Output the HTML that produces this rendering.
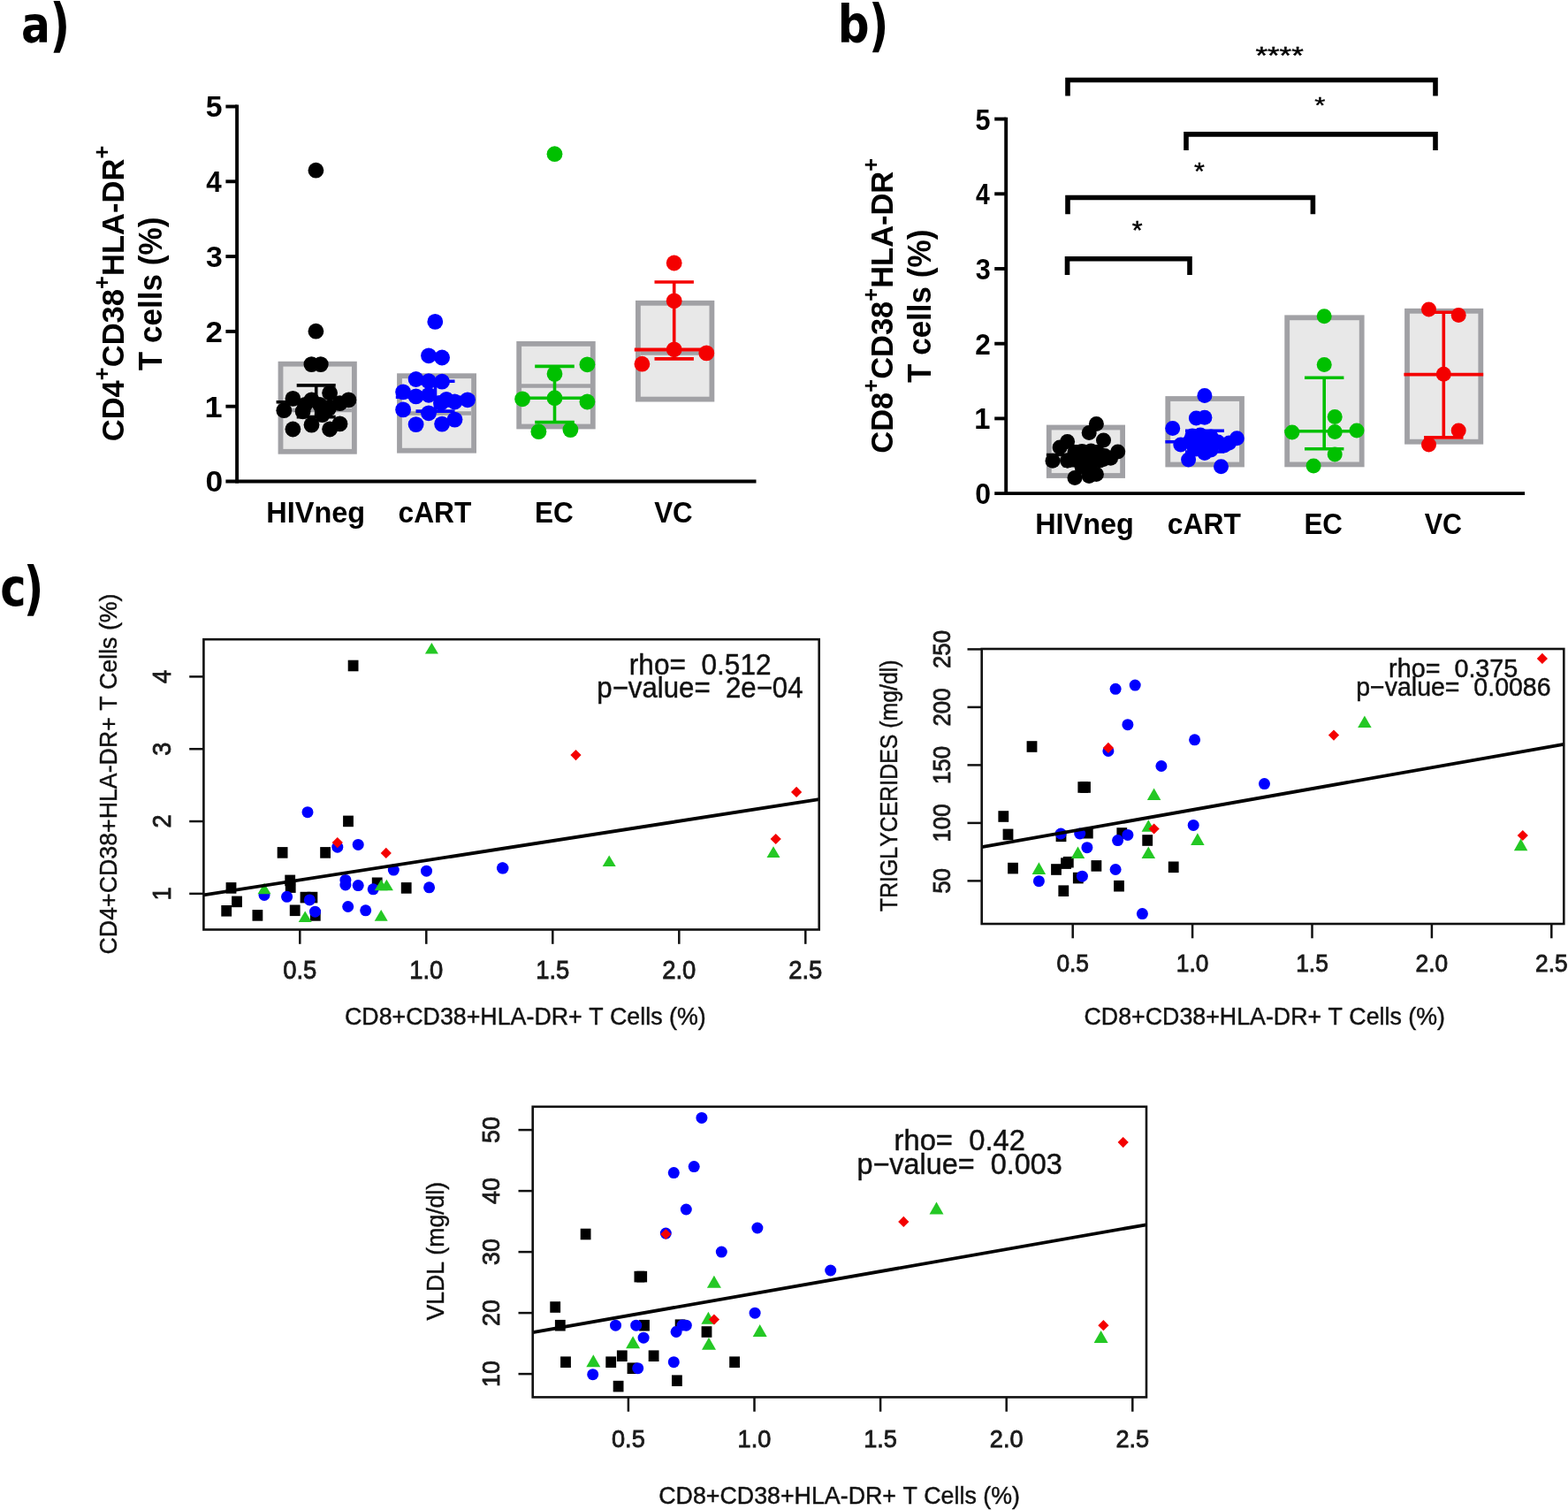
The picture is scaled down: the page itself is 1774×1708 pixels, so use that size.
<!DOCTYPE html><html><head><meta charset="utf-8"><title>Figure</title>
<style>html,body{margin:0;padding:0;background:#fff;overflow:hidden;}svg{display:block;}text{font-family:"Liberation Sans", Arial, sans-serif;font-kerning:none;white-space:pre;}</style></head><body>
<svg width="1774" height="1708" viewBox="0 0 1774 1708">
<rect width="1774" height="1708" fill="#fff"/>
<rect x="317.5" y="411.7" width="83.4" height="99.1" fill="#e8e8e8" stroke="#a1a1a5" stroke-width="5.8"/>
<line x1="320.5" y1="464" x2="397.9" y2="464" stroke="#a1a1a5" stroke-width="4.5" stroke-linecap="butt"/>
<rect x="452" y="425.2" width="84.1" height="84.5" fill="#e8e8e8" stroke="#a1a1a5" stroke-width="5.8"/>
<line x1="455" y1="467.6" x2="533" y2="467.6" stroke="#a1a1a5" stroke-width="4.5" stroke-linecap="butt"/>
<rect x="587.2" y="388.9" width="83.6" height="93.6" fill="#e8e8e8" stroke="#a1a1a5" stroke-width="5.8"/>
<line x1="590" y1="436.5" x2="668" y2="436.5" stroke="#a1a1a5" stroke-width="4.5" stroke-linecap="butt"/>
<rect x="721.9" y="342.8" width="83.5" height="108.8" fill="#e8e8e8" stroke="#a1a1a5" stroke-width="5.8"/>
<line x1="725" y1="399.4" x2="802.5" y2="399.4" stroke="#a1a1a5" stroke-width="4.5" stroke-linecap="butt"/>
<circle cx="357.4" cy="192.7" r="8.9" fill="#000"/>
<circle cx="357.4" cy="374.7" r="8.9" fill="#000"/>
<circle cx="352.4" cy="412.1" r="8.9" fill="#000"/>
<circle cx="362.8" cy="412.1" r="8.9" fill="#000"/>
<circle cx="331.4" cy="450.9" r="8.9" fill="#000"/>
<circle cx="321.3" cy="464.2" r="8.9" fill="#000"/>
<circle cx="352.5" cy="452.4" r="8.9" fill="#000"/>
<circle cx="394.4" cy="452.4" r="8.9" fill="#000"/>
<circle cx="384.5" cy="456.2" r="8.9" fill="#000"/>
<circle cx="373.1" cy="444.5" r="8.9" fill="#000"/>
<circle cx="342.6" cy="465.3" r="8.9" fill="#000"/>
<circle cx="364.7" cy="469.1" r="8.9" fill="#000"/>
<circle cx="352.5" cy="480.6" r="8.9" fill="#000"/>
<circle cx="331.4" cy="485.5" r="8.9" fill="#000"/>
<circle cx="373.1" cy="485.5" r="8.9" fill="#000"/>
<circle cx="384.5" cy="479.4" r="8.9" fill="#000"/>
<circle cx="362" cy="458" r="8.9" fill="#000"/>
<circle cx="372" cy="462" r="8.9" fill="#000"/>
<circle cx="345" cy="458" r="8.9" fill="#000"/>
<line x1="357.7" y1="435.9" x2="357.7" y2="471.6" stroke="#000" stroke-width="3.6" stroke-linecap="butt"/>
<line x1="335.7" y1="435.9" x2="379.7" y2="435.9" stroke="#000" stroke-width="3.6" stroke-linecap="butt"/>
<line x1="335.7" y1="471.6" x2="379.7" y2="471.6" stroke="#000" stroke-width="3.6" stroke-linecap="butt"/>
<line x1="312.6" y1="454.7" x2="402.4" y2="454.7" stroke="#000" stroke-width="3.6" stroke-linecap="butt"/>
<circle cx="492.3" cy="363.9" r="8.9" fill="#0000ff"/>
<circle cx="485" cy="402.3" r="8.9" fill="#0000ff"/>
<circle cx="500.1" cy="404.5" r="8.9" fill="#0000ff"/>
<circle cx="470.6" cy="429" r="8.9" fill="#0000ff"/>
<circle cx="485" cy="431.2" r="8.9" fill="#0000ff"/>
<circle cx="500.1" cy="431.7" r="8.9" fill="#0000ff"/>
<circle cx="456.1" cy="443.4" r="8.9" fill="#0000ff"/>
<circle cx="470.6" cy="448.4" r="8.9" fill="#0000ff"/>
<circle cx="485" cy="446.8" r="8.9" fill="#0000ff"/>
<circle cx="514.5" cy="454.5" r="8.9" fill="#0000ff"/>
<circle cx="529" cy="452.3" r="8.9" fill="#0000ff"/>
<circle cx="499" cy="455.7" r="8.9" fill="#0000ff"/>
<circle cx="456.1" cy="463.4" r="8.9" fill="#0000ff"/>
<circle cx="485" cy="467.3" r="8.9" fill="#0000ff"/>
<circle cx="470.6" cy="480.1" r="8.9" fill="#0000ff"/>
<circle cx="500.1" cy="479.6" r="8.9" fill="#0000ff"/>
<circle cx="514.5" cy="474.6" r="8.9" fill="#0000ff"/>
<circle cx="505" cy="452" r="8.9" fill="#0000ff"/>
<line x1="492.5" y1="431.2" x2="492.5" y2="465.1" stroke="#0000ff" stroke-width="3.6" stroke-linecap="butt"/>
<line x1="470.5" y1="431.2" x2="514.5" y2="431.2" stroke="#0000ff" stroke-width="3.6" stroke-linecap="butt"/>
<line x1="470.5" y1="465.1" x2="514.5" y2="465.1" stroke="#0000ff" stroke-width="3.6" stroke-linecap="butt"/>
<line x1="447.8" y1="449.2" x2="537" y2="449.2" stroke="#0000ff" stroke-width="3.6" stroke-linecap="butt"/>
<line x1="627.5" y1="414.4" x2="627.5" y2="477.6" stroke="#00c000" stroke-width="3.6" stroke-linecap="butt"/>
<line x1="605.2" y1="414.4" x2="649.8" y2="414.4" stroke="#00c000" stroke-width="3.6" stroke-linecap="butt"/>
<line x1="605.2" y1="477.6" x2="649.8" y2="477.6" stroke="#00c000" stroke-width="3.6" stroke-linecap="butt"/>
<line x1="584.3" y1="450.2" x2="664" y2="450.2" stroke="#00c000" stroke-width="3.6" stroke-linecap="butt"/>
<circle cx="627.5" cy="174.2" r="8.9" fill="#00c000"/>
<circle cx="664.4" cy="412.3" r="8.9" fill="#00c000"/>
<circle cx="627.5" cy="422.9" r="8.9" fill="#00c000"/>
<circle cx="591.1" cy="451.3" r="8.9" fill="#00c000"/>
<circle cx="627.5" cy="450.2" r="8.9" fill="#00c000"/>
<circle cx="664.4" cy="454.5" r="8.9" fill="#00c000"/>
<circle cx="609.4" cy="488.2" r="8.9" fill="#00c000"/>
<circle cx="645.4" cy="486.1" r="8.9" fill="#00c000"/>
<line x1="762.7" y1="319" x2="762.7" y2="405.9" stroke="#f40000" stroke-width="3.6" stroke-linecap="butt"/>
<line x1="740.5" y1="319" x2="784.9" y2="319" stroke="#f40000" stroke-width="3.6" stroke-linecap="butt"/>
<line x1="740.5" y1="405.9" x2="784.9" y2="405.9" stroke="#f40000" stroke-width="3.6" stroke-linecap="butt"/>
<line x1="717.8" y1="395.6" x2="800" y2="395.6" stroke="#f40000" stroke-width="4" stroke-linecap="butt"/>
<circle cx="762.7" cy="297.5" r="8.9" fill="#f40000"/>
<circle cx="762.7" cy="340.3" r="8.9" fill="#f40000"/>
<circle cx="762.7" cy="395.3" r="8.9" fill="#f40000"/>
<circle cx="799.3" cy="399.4" r="8.9" fill="#f40000"/>
<circle cx="726.4" cy="411.7" r="8.9" fill="#f40000"/>
<line x1="268.1" y1="118.55" x2="268.1" y2="546.45" stroke="#000" stroke-width="3.9" stroke-linecap="butt"/>
<line x1="255.4" y1="544.5" x2="855.5" y2="544.5" stroke="#000" stroke-width="3.9" stroke-linecap="butt"/>
<line x1="255.4" y1="459.7" x2="268.1" y2="459.7" stroke="#000" stroke-width="3.9" stroke-linecap="butt"/>
<line x1="255.4" y1="374.9" x2="268.1" y2="374.9" stroke="#000" stroke-width="3.9" stroke-linecap="butt"/>
<line x1="255.4" y1="290.1" x2="268.1" y2="290.1" stroke="#000" stroke-width="3.9" stroke-linecap="butt"/>
<line x1="255.4" y1="205.3" x2="268.1" y2="205.3" stroke="#000" stroke-width="3.9" stroke-linecap="butt"/>
<line x1="255.4" y1="120.5" x2="268.1" y2="120.5" stroke="#000" stroke-width="3.9" stroke-linecap="butt"/>
<text transform="translate(232.4,556.4) scale(0.3532,0.3300)" font-size="100" font-weight="bold" fill="#000">0</text>
<text transform="translate(231.53,471.6) scale(0.3610,0.3300)" font-size="100" font-weight="bold" fill="#000">1</text>
<text transform="translate(232.59,386.8) scale(0.3489,0.3300)" font-size="100" font-weight="bold" fill="#000">2</text>
<text transform="translate(233.02,302) scale(0.3380,0.3300)" font-size="100" font-weight="bold" fill="#000">3</text>
<text transform="translate(233.33,217.2) scale(0.3136,0.3300)" font-size="100" font-weight="bold" fill="#000">4</text>
<text transform="translate(232.76,132.4) scale(0.3376,0.3300)" font-size="100" font-weight="bold" fill="#000">5</text>
<text transform="translate(301.23,591.1) scale(0.3250,0.3300)" font-size="100" font-weight="bold" fill="#000">HIVneg</text>
<text transform="translate(450.56,591.1) scale(0.3174,0.3300)" font-size="100" font-weight="bold" fill="#000">cART</text>
<text transform="translate(604.89,591.1) scale(0.3151,0.3300)" font-size="100" font-weight="bold" fill="#000">EC</text>
<text transform="translate(740.19,591.1) scale(0.3129,0.3300)" font-size="100" font-weight="bold" fill="#000">VC</text>
<rect x="1186.8" y="483.5" width="83.3" height="54.5" fill="#e8e8e8" stroke="#a1a1a5" stroke-width="5.8"/>
<rect x="1321.3" y="451" width="83.7" height="74.5" fill="#e8e8e8" stroke="#a1a1a5" stroke-width="5.8"/>
<rect x="1456.2" y="359.3" width="84.5" height="166.1" fill="#e8e8e8" stroke="#a1a1a5" stroke-width="5.8"/>
<rect x="1592" y="351.8" width="83.3" height="147.9" fill="#e8e8e8" stroke="#a1a1a5" stroke-width="5.8"/>
<circle cx="1240.4" cy="479.6" r="8.5" fill="#000"/>
<circle cx="1232.2" cy="489.4" r="8.5" fill="#000"/>
<circle cx="1207.6" cy="499.6" r="8.5" fill="#000"/>
<circle cx="1248.5" cy="497.9" r="8.5" fill="#000"/>
<circle cx="1199.1" cy="506" r="8.5" fill="#000"/>
<circle cx="1264.7" cy="511.1" r="8.5" fill="#000"/>
<circle cx="1191" cy="521.2" r="8.5" fill="#000"/>
<circle cx="1207.6" cy="520.9" r="8.5" fill="#000"/>
<circle cx="1256.6" cy="518.2" r="8.5" fill="#000"/>
<circle cx="1248.5" cy="519.5" r="8.5" fill="#000"/>
<circle cx="1216" cy="540.5" r="8.5" fill="#000"/>
<circle cx="1232.2" cy="538.5" r="8.5" fill="#000"/>
<circle cx="1240.4" cy="536.5" r="8.5" fill="#000"/>
<circle cx="1224.1" cy="528.3" r="8.5" fill="#000"/>
<circle cx="1218" cy="512" r="8.5" fill="#000"/>
<circle cx="1232" cy="514" r="8.5" fill="#000"/>
<circle cx="1224" cy="520" r="8.5" fill="#000"/>
<circle cx="1216" cy="511.7" r="8.5" fill="#000"/>
<circle cx="1224.1" cy="510.6" r="8.5" fill="#000"/>
<circle cx="1234.3" cy="510" r="8.5" fill="#000"/>
<circle cx="1241.7" cy="511.4" r="8.5" fill="#000"/>
<circle cx="1249.8" cy="515.5" r="8.5" fill="#000"/>
<circle cx="1207.9" cy="520.9" r="8.5" fill="#000"/>
<circle cx="1216" cy="519.5" r="8.5" fill="#000"/>
<circle cx="1233.6" cy="516.2" r="8.5" fill="#000"/>
<circle cx="1244.4" cy="520.9" r="8.5" fill="#000"/>
<circle cx="1233.6" cy="525" r="8.5" fill="#000"/>
<line x1="1224.5" y1="504.8" x2="1224.5" y2="526.6" stroke="#000" stroke-width="3.6" stroke-linecap="butt"/>
<line x1="1202.5" y1="504.8" x2="1246.5" y2="504.8" stroke="#000" stroke-width="3.6" stroke-linecap="butt"/>
<line x1="1202.5" y1="526.6" x2="1246.5" y2="526.6" stroke="#000" stroke-width="3.6" stroke-linecap="butt"/>
<line x1="1183.9" y1="514.5" x2="1270" y2="514.5" stroke="#000" stroke-width="3.6" stroke-linecap="butt"/>
<circle cx="1362.9" cy="447.6" r="8.5" fill="#0000ff"/>
<circle cx="1353.4" cy="472.9" r="8.5" fill="#0000ff"/>
<circle cx="1362.9" cy="472.2" r="8.5" fill="#0000ff"/>
<circle cx="1326.7" cy="484.5" r="8.5" fill="#0000ff"/>
<circle cx="1399.4" cy="495.7" r="8.5" fill="#0000ff"/>
<circle cx="1335.8" cy="503.1" r="8.5" fill="#0000ff"/>
<circle cx="1390.7" cy="501" r="8.5" fill="#0000ff"/>
<circle cx="1344.6" cy="520" r="8.5" fill="#0000ff"/>
<circle cx="1381.5" cy="527.7" r="8.5" fill="#0000ff"/>
<circle cx="1362.9" cy="512.6" r="8.5" fill="#0000ff"/>
<circle cx="1349" cy="493" r="8.5" fill="#0000ff"/>
<circle cx="1358" cy="492" r="8.5" fill="#0000ff"/>
<circle cx="1370" cy="494" r="8.5" fill="#0000ff"/>
<circle cx="1378" cy="500" r="8.5" fill="#0000ff"/>
<circle cx="1353" cy="508" r="8.5" fill="#0000ff"/>
<circle cx="1370" cy="509" r="8.5" fill="#0000ff"/>
<circle cx="1362" cy="500" r="8.5" fill="#0000ff"/>
<circle cx="1347" cy="498" r="8.5" fill="#0000ff"/>
<circle cx="1351" cy="506" r="8.5" fill="#0000ff"/>
<circle cx="1385" cy="504" r="8.5" fill="#0000ff"/>
<line x1="1363" y1="487.3" x2="1363" y2="511" stroke="#0000ff" stroke-width="3.6" stroke-linecap="butt"/>
<line x1="1341" y1="487.3" x2="1385" y2="487.3" stroke="#0000ff" stroke-width="3.6" stroke-linecap="butt"/>
<line x1="1341" y1="511" x2="1385" y2="511" stroke="#0000ff" stroke-width="3.6" stroke-linecap="butt"/>
<line x1="1318.4" y1="499.8" x2="1400" y2="499.8" stroke="#0000ff" stroke-width="3.6" stroke-linecap="butt"/>
<line x1="1498.2" y1="427.2" x2="1498.2" y2="507.7" stroke="#00c000" stroke-width="3.6" stroke-linecap="butt"/>
<line x1="1476" y1="427.2" x2="1520.4" y2="427.2" stroke="#00c000" stroke-width="3.6" stroke-linecap="butt"/>
<line x1="1476" y1="507.7" x2="1520.4" y2="507.7" stroke="#00c000" stroke-width="3.6" stroke-linecap="butt"/>
<line x1="1453.3" y1="487.7" x2="1541" y2="487.7" stroke="#00c000" stroke-width="3.6" stroke-linecap="butt"/>
<circle cx="1498.2" cy="357.7" r="8.5" fill="#00c000"/>
<circle cx="1498.2" cy="412.4" r="8.5" fill="#00c000"/>
<circle cx="1510.2" cy="471.6" r="8.5" fill="#00c000"/>
<circle cx="1461.9" cy="489" r="8.5" fill="#00c000"/>
<circle cx="1510.2" cy="488.4" r="8.5" fill="#00c000"/>
<circle cx="1535" cy="487.1" r="8.5" fill="#00c000"/>
<circle cx="1510.2" cy="514.1" r="8.5" fill="#00c000"/>
<circle cx="1486.1" cy="527" r="8.5" fill="#00c000"/>
<line x1="1633.3" y1="353.2" x2="1633.3" y2="494.9" stroke="#f40000" stroke-width="3.6" stroke-linecap="butt"/>
<line x1="1611.1" y1="353.2" x2="1655.5" y2="353.2" stroke="#f40000" stroke-width="3.6" stroke-linecap="butt"/>
<line x1="1611.1" y1="494.9" x2="1655.5" y2="494.9" stroke="#f40000" stroke-width="3.6" stroke-linecap="butt"/>
<line x1="1588.4" y1="423.7" x2="1678.2" y2="423.7" stroke="#f40000" stroke-width="3.8" stroke-linecap="butt"/>
<circle cx="1616.5" cy="350.1" r="8.5" fill="#f40000"/>
<circle cx="1650.2" cy="356.6" r="8.5" fill="#f40000"/>
<circle cx="1633.3" cy="423.3" r="8.5" fill="#f40000"/>
<circle cx="1650.2" cy="487" r="8.5" fill="#f40000"/>
<circle cx="1616.5" cy="503" r="8.5" fill="#f40000"/>
<line x1="1138.2" y1="132.65" x2="1138.2" y2="560.05" stroke="#000" stroke-width="3.9" stroke-linecap="butt"/>
<line x1="1125.2" y1="558.1" x2="1725.1" y2="558.1" stroke="#000" stroke-width="3.9" stroke-linecap="butt"/>
<line x1="1125.2" y1="473.4" x2="1138.2" y2="473.4" stroke="#000" stroke-width="3.9" stroke-linecap="butt"/>
<line x1="1125.2" y1="388.7" x2="1138.2" y2="388.7" stroke="#000" stroke-width="3.9" stroke-linecap="butt"/>
<line x1="1125.2" y1="304" x2="1138.2" y2="304" stroke="#000" stroke-width="3.9" stroke-linecap="butt"/>
<line x1="1125.2" y1="219.3" x2="1138.2" y2="219.3" stroke="#000" stroke-width="3.9" stroke-linecap="butt"/>
<line x1="1125.2" y1="134.6" x2="1138.2" y2="134.6" stroke="#000" stroke-width="3.9" stroke-linecap="butt"/>
<text transform="translate(1103.14,570) scale(0.3196,0.3300)" font-size="100" font-weight="bold" fill="#000">0</text>
<text transform="translate(1102.34,485.3) scale(0.3266,0.3300)" font-size="100" font-weight="bold" fill="#000">1</text>
<text transform="translate(1103.31,400.6) scale(0.3157,0.3300)" font-size="100" font-weight="bold" fill="#000">2</text>
<text transform="translate(1103.7,315.9) scale(0.3058,0.3300)" font-size="100" font-weight="bold" fill="#000">3</text>
<text transform="translate(1103.97,231.2) scale(0.2838,0.3300)" font-size="100" font-weight="bold" fill="#000">4</text>
<text transform="translate(1103.46,146.5) scale(0.3055,0.3300)" font-size="100" font-weight="bold" fill="#000">5</text>
<text transform="translate(1171.23,604) scale(0.3241,0.3300)" font-size="100" font-weight="bold" fill="#000">HIVneg</text>
<text transform="translate(1320.86,604) scale(0.3178,0.3300)" font-size="100" font-weight="bold" fill="#000">cART</text>
<text transform="translate(1475.51,604) scale(0.3128,0.3300)" font-size="100" font-weight="bold" fill="#000">EC</text>
<text transform="translate(1611.79,604) scale(0.3041,0.3300)" font-size="100" font-weight="bold" fill="#000">VC</text>
<path d="M1208,108.5 V90.5 H1624 V108.5" fill="none" stroke="#000" stroke-width="5.6" stroke-linejoin="miter"/>
<path d="M1342,169.9 V151.9 H1624 V169.9" fill="none" stroke="#000" stroke-width="5.6" stroke-linejoin="miter"/>
<path d="M1208,242.2 V223.5 H1485.4 V242.2" fill="none" stroke="#000" stroke-width="5.6" stroke-linejoin="miter"/>
<path d="M1207.5,310.9 V292.8 H1346 V310.9" fill="none" stroke="#000" stroke-width="5.6" stroke-linejoin="miter"/>
<text transform="translate(1420.44,72) scale(0.3489,0.2848)" font-size="100" font-weight="normal" fill="#000" stroke="#000" stroke-width="1.5">****</text>
<text transform="translate(1487.3,128.43) scale(0.3134,0.2621)" font-size="100" font-weight="normal" fill="#000" stroke="#000" stroke-width="1.5">*</text>
<text transform="translate(1351.11,202.81) scale(0.3050,0.2734)" font-size="100" font-weight="normal" fill="#000" stroke="#000" stroke-width="1.5">*</text>
<text transform="translate(1280.81,270.38) scale(0.3050,0.2962)" font-size="100" font-weight="normal" fill="#000" stroke="#000" stroke-width="1.5">*</text>
<rect x="393.7" y="746.7" width="11.8" height="12.6" fill="#000"/>
<rect x="388.1" y="922.6" width="11.8" height="12.6" fill="#000"/>
<rect x="313.7" y="958.1" width="11.8" height="12.6" fill="#000"/>
<rect x="362.2" y="958.1" width="11.8" height="12.6" fill="#000"/>
<rect x="255.6" y="998.1" width="11.8" height="12.6" fill="#000"/>
<rect x="262.1" y="1013.6" width="11.8" height="12.6" fill="#000"/>
<rect x="250.3" y="1024" width="11.8" height="12.6" fill="#000"/>
<rect x="285.5" y="1029.1" width="11.8" height="12.6" fill="#000"/>
<rect x="322.3" y="989.6" width="11.8" height="12.6" fill="#000"/>
<rect x="322.8" y="997.3" width="11.8" height="12.6" fill="#000"/>
<rect x="327.8" y="1023.5" width="11.8" height="12.6" fill="#000"/>
<rect x="339.6" y="1008.8" width="11.8" height="12.6" fill="#000"/>
<rect x="347.5" y="1008.8" width="11.8" height="12.6" fill="#000"/>
<rect x="350.9" y="1029.1" width="11.8" height="12.6" fill="#000"/>
<rect x="420.8" y="992.5" width="11.8" height="12.6" fill="#000"/>
<rect x="453.8" y="998.1" width="11.8" height="12.6" fill="#000"/>
<circle cx="348" cy="918.7" r="6.5" fill="#0000ff"/>
<circle cx="381.8" cy="958.2" r="6.5" fill="#0000ff"/>
<circle cx="405.2" cy="955.4" r="6.5" fill="#0000ff"/>
<circle cx="445.3" cy="984.1" r="6.5" fill="#0000ff"/>
<circle cx="482.5" cy="985.2" r="6.5" fill="#0000ff"/>
<circle cx="568.4" cy="981.8" r="6.5" fill="#0000ff"/>
<circle cx="390.9" cy="995.4" r="6.5" fill="#0000ff"/>
<circle cx="390.9" cy="1001" r="6.5" fill="#0000ff"/>
<circle cx="405.2" cy="1001.6" r="6.5" fill="#0000ff"/>
<circle cx="422.2" cy="1005.8" r="6.5" fill="#0000ff"/>
<circle cx="485.6" cy="1003.8" r="6.5" fill="#0000ff"/>
<circle cx="299" cy="1012.4" r="6.5" fill="#0000ff"/>
<circle cx="324.6" cy="1014.3" r="6.5" fill="#0000ff"/>
<circle cx="350.3" cy="1017.9" r="6.5" fill="#0000ff"/>
<circle cx="356.5" cy="1031.2" r="6.5" fill="#0000ff"/>
<circle cx="393.7" cy="1025.5" r="6.5" fill="#0000ff"/>
<circle cx="413.7" cy="1029.8" r="6.5" fill="#0000ff"/>
<circle cx="569" cy="982.1" r="6.5" fill="#0000ff"/>
<path d="M488.4,726.9 L495.9,739.5 L480.9,739.5 Z" fill="#24c824"/>
<path d="M299,998.7 L306.5,1011.3 L291.5,1011.3 Z" fill="#24c824"/>
<path d="M431.2,994.7 L438.7,1007.3 L423.7,1007.3 Z" fill="#24c824"/>
<path d="M437.4,994.7 L444.9,1007.3 L429.9,1007.3 Z" fill="#24c824"/>
<path d="M345.2,1030.5 L352.7,1043.1 L337.7,1043.1 Z" fill="#24c824"/>
<path d="M431.2,1029.1 L438.7,1041.7 L423.7,1041.7 Z" fill="#24c824"/>
<path d="M689.2,967.5 L696.7,980.1 L681.7,980.1 Z" fill="#24c824"/>
<path d="M875,957.3 L882.5,969.9 L867.5,969.9 Z" fill="#24c824"/>
<path d="M381.8,947 L387.9,953.1 L381.8,959.2 L375.7,953.1 Z" fill="#f40000"/>
<path d="M436.8,958.8 L442.9,964.9 L436.8,971 L430.7,964.9 Z" fill="#f40000"/>
<path d="M651.5,848 L657.6,854.1 L651.5,860.2 L645.4,854.1 Z" fill="#f40000"/>
<path d="M901.1,889.8 L907.2,895.9 L901.1,902 L895,895.9 Z" fill="#f40000"/>
<path d="M877.7,942.9 L883.8,949 L877.7,955.1 L871.6,949 Z" fill="#f40000"/>
<line x1="230.4" y1="1012.3" x2="926.7" y2="904.2" stroke="#000" stroke-width="3.8" stroke-linecap="butt"/>
<rect x="230.4" y="723.2" width="696.3" height="328.3" fill="none" stroke="#111" stroke-width="2.6"/>
<line x1="339.3" y1="1051.5" x2="339.3" y2="1067.8" stroke="#111" stroke-width="2.5" stroke-linecap="butt"/>
<text transform="translate(320.22,1107) scale(0.9600,1)" font-size="28.6" fill="#1a1a1a" stroke="#1a1a1a" stroke-width="0.85">0.5</text>
<line x1="482.3" y1="1051.5" x2="482.3" y2="1067.8" stroke="#111" stroke-width="2.5" stroke-linecap="butt"/>
<text transform="translate(463.22,1107) scale(0.9600,1)" font-size="28.6" fill="#1a1a1a" stroke="#1a1a1a" stroke-width="0.85">1.0</text>
<line x1="625.3" y1="1051.5" x2="625.3" y2="1067.8" stroke="#111" stroke-width="2.5" stroke-linecap="butt"/>
<text transform="translate(606.22,1107) scale(0.9600,1)" font-size="28.6" fill="#1a1a1a" stroke="#1a1a1a" stroke-width="0.85">1.5</text>
<line x1="768.3" y1="1051.5" x2="768.3" y2="1067.8" stroke="#111" stroke-width="2.5" stroke-linecap="butt"/>
<text transform="translate(749.22,1107) scale(0.9600,1)" font-size="28.6" fill="#1a1a1a" stroke="#1a1a1a" stroke-width="0.85">2.0</text>
<line x1="911.3" y1="1051.5" x2="911.3" y2="1067.8" stroke="#111" stroke-width="2.5" stroke-linecap="butt"/>
<text transform="translate(892.22,1107) scale(0.9600,1)" font-size="28.6" fill="#1a1a1a" stroke="#1a1a1a" stroke-width="0.85">2.5</text>
<line x1="214.2" y1="1010.87" x2="230.4" y2="1010.87" stroke="#111" stroke-width="2.5" stroke-linecap="butt"/>
<text transform="translate(192.6,1018.43) rotate(-90) scale(0.9500,1)" font-size="28.6" fill="#1a1a1a" stroke="#1a1a1a" stroke-width="0.85">1</text>
<line x1="214.2" y1="929.04" x2="230.4" y2="929.04" stroke="#111" stroke-width="2.5" stroke-linecap="butt"/>
<text transform="translate(192.6,936.6) rotate(-90) scale(0.9500,1)" font-size="28.6" fill="#1a1a1a" stroke="#1a1a1a" stroke-width="0.85">2</text>
<line x1="214.2" y1="847.21" x2="230.4" y2="847.21" stroke="#111" stroke-width="2.5" stroke-linecap="butt"/>
<text transform="translate(192.6,854.77) rotate(-90) scale(0.9500,1)" font-size="28.6" fill="#1a1a1a" stroke="#1a1a1a" stroke-width="0.85">3</text>
<line x1="214.2" y1="765.38" x2="230.4" y2="765.38" stroke="#111" stroke-width="2.5" stroke-linecap="butt"/>
<text transform="translate(192.6,772.94) rotate(-90) scale(0.9500,1)" font-size="28.6" fill="#1a1a1a" stroke="#1a1a1a" stroke-width="0.85">4</text>
<text transform="translate(711.8,763) scale(0.9577,1)" font-size="33" fill="#111" stroke="#111" stroke-width="0.45">rho=  0.512</text>
<text transform="translate(675.29,789.4) scale(0.9511,1)" font-size="32.8" fill="#111" stroke="#111" stroke-width="0.45">p−value=  2e−04</text>
<text transform="translate(389.94,1159.3) scale(0.9506,1)" font-size="28.2" fill="#111" stroke="#111" stroke-width="0.45">CD8+CD38+HLA-DR+ T Cells (%)</text>
<text transform="translate(132.4,1079.46) rotate(-90) scale(0.9421,1)" font-size="28.4" fill="#111" stroke="#111" stroke-width="0.45">CD4+CD38+HLA-DR+ T Cells (%)</text>
<rect x="1161.6" y="838.2" width="11.8" height="12.6" fill="#000"/>
<rect x="1129.4" y="917.2" width="11.8" height="12.6" fill="#000"/>
<rect x="1134.6" y="937.6" width="11.8" height="12.6" fill="#000"/>
<rect x="1140.1" y="975.8" width="11.8" height="12.6" fill="#000"/>
<rect x="1219.4" y="884.2" width="11.8" height="12.6" fill="#000"/>
<rect x="1222.1" y="884.2" width="11.8" height="12.6" fill="#000"/>
<rect x="1194.6" y="939.5" width="11.8" height="12.6" fill="#000"/>
<rect x="1224.9" y="935.9" width="11.8" height="12.6" fill="#000"/>
<rect x="1263.4" y="936.2" width="11.8" height="12.6" fill="#000"/>
<rect x="1292.3" y="944.2" width="11.8" height="12.6" fill="#000"/>
<rect x="1189.1" y="977.2" width="11.8" height="12.6" fill="#000"/>
<rect x="1200.1" y="970.3" width="11.8" height="12.6" fill="#000"/>
<rect x="1202.9" y="968.9" width="11.8" height="12.6" fill="#000"/>
<rect x="1234.5" y="973.1" width="11.8" height="12.6" fill="#000"/>
<rect x="1213.9" y="986.8" width="11.8" height="12.6" fill="#000"/>
<rect x="1197.4" y="1001.4" width="11.8" height="12.6" fill="#000"/>
<rect x="1260.1" y="995.9" width="11.8" height="12.6" fill="#000"/>
<rect x="1321.8" y="974.5" width="11.8" height="12.6" fill="#000"/>
<circle cx="1262.1" cy="779.3" r="6.5" fill="#0000ff"/>
<circle cx="1284.2" cy="775.1" r="6.5" fill="#0000ff"/>
<circle cx="1275.9" cy="819.7" r="6.5" fill="#0000ff"/>
<circle cx="1351.6" cy="836.8" r="6.5" fill="#0000ff"/>
<circle cx="1253.9" cy="849.5" r="6.5" fill="#0000ff"/>
<circle cx="1313.9" cy="866.5" r="6.5" fill="#0000ff"/>
<circle cx="1200.2" cy="943" r="6.5" fill="#0000ff"/>
<circle cx="1221.7" cy="943" r="6.5" fill="#0000ff"/>
<circle cx="1275.9" cy="944.4" r="6.5" fill="#0000ff"/>
<circle cx="1350.2" cy="933.4" r="6.5" fill="#0000ff"/>
<circle cx="1264.6" cy="950.6" r="6.5" fill="#0000ff"/>
<circle cx="1229.9" cy="958.7" r="6.5" fill="#0000ff"/>
<circle cx="1262.1" cy="983.5" r="6.5" fill="#0000ff"/>
<circle cx="1175.4" cy="996.7" r="6.5" fill="#0000ff"/>
<circle cx="1224.4" cy="991.2" r="6.5" fill="#0000ff"/>
<circle cx="1292.4" cy="1033.6" r="6.5" fill="#0000ff"/>
<circle cx="1430.5" cy="886.6" r="6.5" fill="#0000ff"/>
<path d="M1305.6,891.4 L1313.35,905 L1297.85,905 Z" fill="#24c824"/>
<path d="M1299.3,927.2 L1307.05,940.8 L1291.55,940.8 Z" fill="#24c824"/>
<path d="M1219.5,957.4 L1227.25,971 L1211.75,971 Z" fill="#24c824"/>
<path d="M1175.4,975.3 L1183.15,988.9 L1167.65,988.9 Z" fill="#24c824"/>
<path d="M1299.3,957.4 L1307.05,971 L1291.55,971 Z" fill="#24c824"/>
<path d="M1354.9,942.3 L1362.65,955.9 L1347.15,955.9 Z" fill="#24c824"/>
<path d="M1543.9,809.4 L1551.65,823 L1536.15,823 Z" fill="#24c824"/>
<path d="M1720.6,948.6 L1728.35,962.2 L1712.85,962.2 Z" fill="#24c824"/>
<path d="M1253.9,839.8 L1260,845.9 L1253.9,852 L1247.8,845.9 Z" fill="#f40000"/>
<path d="M1305.6,931.4 L1311.7,937.5 L1305.6,943.6 L1299.5,937.5 Z" fill="#f40000"/>
<path d="M1744.9,738.8 L1751,744.9 L1744.9,751 L1738.8,744.9 Z" fill="#f40000"/>
<path d="M1509,825.5 L1515.1,831.6 L1509,837.7 L1502.9,831.6 Z" fill="#f40000"/>
<path d="M1722.8,938.9 L1728.9,945 L1722.8,951.1 L1716.7,945 Z" fill="#f40000"/>
<line x1="1110.7" y1="958.2" x2="1769.3" y2="841.8" stroke="#000" stroke-width="3.8" stroke-linecap="butt"/>
<rect x="1110.7" y="734" width="658.6" height="311" fill="none" stroke="#111" stroke-width="2.6"/>
<line x1="1213.7" y1="1045" x2="1213.7" y2="1061.3" stroke="#111" stroke-width="2.5" stroke-linecap="butt"/>
<text transform="translate(1195.42,1098.5) scale(0.9600,1)" font-size="27.4" fill="#1a1a1a" stroke="#1a1a1a" stroke-width="0.85">0.5</text>
<line x1="1349.1" y1="1045" x2="1349.1" y2="1061.3" stroke="#111" stroke-width="2.5" stroke-linecap="butt"/>
<text transform="translate(1330.82,1098.5) scale(0.9600,1)" font-size="27.4" fill="#1a1a1a" stroke="#1a1a1a" stroke-width="0.85">1.0</text>
<line x1="1484.5" y1="1045" x2="1484.5" y2="1061.3" stroke="#111" stroke-width="2.5" stroke-linecap="butt"/>
<text transform="translate(1466.22,1098.5) scale(0.9600,1)" font-size="27.4" fill="#1a1a1a" stroke="#1a1a1a" stroke-width="0.85">1.5</text>
<line x1="1619.9" y1="1045" x2="1619.9" y2="1061.3" stroke="#111" stroke-width="2.5" stroke-linecap="butt"/>
<text transform="translate(1601.62,1098.5) scale(0.9600,1)" font-size="27.4" fill="#1a1a1a" stroke="#1a1a1a" stroke-width="0.85">2.0</text>
<line x1="1755.3" y1="1045" x2="1755.3" y2="1061.3" stroke="#111" stroke-width="2.5" stroke-linecap="butt"/>
<text transform="translate(1737.02,1098.5) scale(0.9600,1)" font-size="27.4" fill="#1a1a1a" stroke="#1a1a1a" stroke-width="0.85">2.5</text>
<line x1="1094.5" y1="996.4" x2="1110.7" y2="996.4" stroke="#111" stroke-width="2.5" stroke-linecap="butt"/>
<text transform="translate(1075,1010.82) rotate(-90) scale(0.9500,1)" font-size="27.3" fill="#1a1a1a" stroke="#1a1a1a" stroke-width="0.85">50</text>
<line x1="1094.5" y1="930.9" x2="1110.7" y2="930.9" stroke="#111" stroke-width="2.5" stroke-linecap="butt"/>
<text transform="translate(1075,952.54) rotate(-90) scale(0.9500,1)" font-size="27.3" fill="#1a1a1a" stroke="#1a1a1a" stroke-width="0.85">100</text>
<line x1="1094.5" y1="865.4" x2="1110.7" y2="865.4" stroke="#111" stroke-width="2.5" stroke-linecap="butt"/>
<text transform="translate(1075,887.04) rotate(-90) scale(0.9500,1)" font-size="27.3" fill="#1a1a1a" stroke="#1a1a1a" stroke-width="0.85">150</text>
<line x1="1094.5" y1="799.9" x2="1110.7" y2="799.9" stroke="#111" stroke-width="2.5" stroke-linecap="butt"/>
<text transform="translate(1075,821.54) rotate(-90) scale(0.9500,1)" font-size="27.3" fill="#1a1a1a" stroke="#1a1a1a" stroke-width="0.85">200</text>
<line x1="1094.5" y1="734.4" x2="1110.7" y2="734.4" stroke="#111" stroke-width="2.5" stroke-linecap="butt"/>
<text transform="translate(1075,756.04) rotate(-90) scale(0.9500,1)" font-size="27.3" fill="#1a1a1a" stroke="#1a1a1a" stroke-width="0.85">250</text>
<text transform="translate(1571.09,765.8) scale(0.9986,1)" font-size="28.8" fill="#111" stroke="#111" stroke-width="0.45">rho=  0.375</text>
<text transform="translate(1534.16,787.3) scale(0.9906,1)" font-size="28.8" fill="#111" stroke="#111" stroke-width="0.45">p−value=  0.0086</text>
<text transform="translate(1226.54,1159) scale(0.9531,1)" font-size="28.1" fill="#111" stroke="#111" stroke-width="0.45">CD8+CD38+HLA-DR+ T Cells (%)</text>
<text transform="translate(1015.4,1031.06) rotate(-90) scale(0.9215,1)" font-size="27" fill="#111" stroke="#111" stroke-width="0.45">TRIGLYCERIDES (mg/dl)</text>
<rect x="656.7" y="1389.7" width="11.8" height="12.6" fill="#000"/>
<rect x="622.3" y="1472.2" width="11.8" height="12.6" fill="#000"/>
<rect x="627.9" y="1492.9" width="11.8" height="12.6" fill="#000"/>
<rect x="634.1" y="1534.4" width="11.8" height="12.6" fill="#000"/>
<rect x="717.5" y="1437.8" width="11.8" height="12.6" fill="#000"/>
<rect x="720.3" y="1437.8" width="11.8" height="12.6" fill="#000"/>
<rect x="723.1" y="1492.9" width="11.8" height="12.6" fill="#000"/>
<rect x="763.7" y="1492.4" width="11.8" height="12.6" fill="#000"/>
<rect x="793.6" y="1500.2" width="11.8" height="12.6" fill="#000"/>
<rect x="685.3" y="1534.4" width="11.8" height="12.6" fill="#000"/>
<rect x="697.9" y="1527.4" width="11.8" height="12.6" fill="#000"/>
<rect x="733.7" y="1527.4" width="11.8" height="12.6" fill="#000"/>
<rect x="709.6" y="1541.4" width="11.8" height="12.6" fill="#000"/>
<rect x="693.7" y="1561.8" width="11.8" height="12.6" fill="#000"/>
<rect x="760" y="1555.4" width="11.8" height="12.6" fill="#000"/>
<rect x="825.2" y="1534.4" width="11.8" height="12.6" fill="#000"/>
<circle cx="793.9" cy="1264.4" r="6.5" fill="#0000ff"/>
<circle cx="762.3" cy="1326.6" r="6.5" fill="#0000ff"/>
<circle cx="785.2" cy="1319.6" r="6.5" fill="#0000ff"/>
<circle cx="776.3" cy="1368" r="6.5" fill="#0000ff"/>
<circle cx="753.3" cy="1395.1" r="6.5" fill="#0000ff"/>
<circle cx="856.9" cy="1389" r="6.5" fill="#0000ff"/>
<circle cx="816.3" cy="1416.1" r="6.5" fill="#0000ff"/>
<circle cx="696.5" cy="1499.2" r="6.5" fill="#0000ff"/>
<circle cx="719.7" cy="1499.2" r="6.5" fill="#0000ff"/>
<circle cx="776.3" cy="1499.2" r="6.5" fill="#0000ff"/>
<circle cx="765.1" cy="1506.5" r="6.5" fill="#0000ff"/>
<circle cx="728.1" cy="1513.2" r="6.5" fill="#0000ff"/>
<circle cx="854.1" cy="1485.2" r="6.5" fill="#0000ff"/>
<circle cx="762.3" cy="1540.7" r="6.5" fill="#0000ff"/>
<circle cx="721.7" cy="1547.7" r="6.5" fill="#0000ff"/>
<circle cx="670.7" cy="1554.7" r="6.5" fill="#0000ff"/>
<circle cx="939.7" cy="1437" r="6.5" fill="#0000ff"/>
<circle cx="772" cy="1499" r="6.5" fill="#0000ff"/>
<path d="M807.9,1442.7 L815.9,1456.7 L799.9,1456.7 Z" fill="#24c824"/>
<path d="M801.4,1483.8 L809.4,1497.8 L793.4,1497.8 Z" fill="#24c824"/>
<path d="M859.7,1498.1 L867.7,1512.1 L851.7,1512.1 Z" fill="#24c824"/>
<path d="M716.1,1511.3 L724.1,1525.3 L708.1,1525.3 Z" fill="#24c824"/>
<path d="M802,1512.7 L810,1526.7 L794,1526.7 Z" fill="#24c824"/>
<path d="M671.3,1532.3 L679.3,1546.3 L663.3,1546.3 Z" fill="#24c824"/>
<path d="M1059.5,1359.5 L1067.5,1373.5 L1051.5,1373.5 Z" fill="#24c824"/>
<path d="M1245.6,1505 L1253.6,1519 L1237.6,1519 Z" fill="#24c824"/>
<path d="M753.3,1389.9 L759.4,1396 L753.3,1402.1 L747.2,1396 Z" fill="#f40000"/>
<path d="M807.9,1486.4 L814,1492.5 L807.9,1498.6 L801.8,1492.5 Z" fill="#f40000"/>
<path d="M1270.7,1286 L1276.8,1292.1 L1270.7,1298.2 L1264.6,1292.1 Z" fill="#f40000"/>
<path d="M1022.3,1375.8 L1028.4,1381.9 L1022.3,1388 L1016.2,1381.9 Z" fill="#f40000"/>
<path d="M1248.4,1493.1 L1254.5,1499.2 L1248.4,1505.3 L1242.3,1499.2 Z" fill="#f40000"/>
<line x1="602.7" y1="1507.1" x2="1297" y2="1385.3" stroke="#000" stroke-width="3.8" stroke-linecap="butt"/>
<rect x="602.7" y="1251.8" width="694.3" height="328.6" fill="none" stroke="#111" stroke-width="2.6"/>
<line x1="710.9" y1="1580.4" x2="710.9" y2="1596.7" stroke="#111" stroke-width="2.5" stroke-linecap="butt"/>
<text transform="translate(692.02,1636.8) scale(0.9700,1)" font-size="28" fill="#1a1a1a" stroke="#1a1a1a" stroke-width="0.85">0.5</text>
<line x1="853.5" y1="1580.4" x2="853.5" y2="1596.7" stroke="#111" stroke-width="2.5" stroke-linecap="butt"/>
<text transform="translate(834.62,1636.8) scale(0.9700,1)" font-size="28" fill="#1a1a1a" stroke="#1a1a1a" stroke-width="0.85">1.0</text>
<line x1="996.1" y1="1580.4" x2="996.1" y2="1596.7" stroke="#111" stroke-width="2.5" stroke-linecap="butt"/>
<text transform="translate(977.22,1636.8) scale(0.9700,1)" font-size="28" fill="#1a1a1a" stroke="#1a1a1a" stroke-width="0.85">1.5</text>
<line x1="1138.7" y1="1580.4" x2="1138.7" y2="1596.7" stroke="#111" stroke-width="2.5" stroke-linecap="butt"/>
<text transform="translate(1119.82,1636.8) scale(0.9700,1)" font-size="28" fill="#1a1a1a" stroke="#1a1a1a" stroke-width="0.85">2.0</text>
<line x1="1281.3" y1="1580.4" x2="1281.3" y2="1596.7" stroke="#111" stroke-width="2.5" stroke-linecap="butt"/>
<text transform="translate(1262.42,1636.8) scale(0.9700,1)" font-size="28" fill="#1a1a1a" stroke="#1a1a1a" stroke-width="0.85">2.5</text>
<line x1="586.5" y1="1554.1" x2="602.7" y2="1554.1" stroke="#111" stroke-width="2.5" stroke-linecap="butt"/>
<text transform="translate(564.6,1569.09) rotate(-90) scale(0.9800,1)" font-size="27.5" fill="#1a1a1a" stroke="#1a1a1a" stroke-width="0.85">10</text>
<line x1="586.5" y1="1485.1" x2="602.7" y2="1485.1" stroke="#111" stroke-width="2.5" stroke-linecap="butt"/>
<text transform="translate(564.6,1500.09) rotate(-90) scale(0.9800,1)" font-size="27.5" fill="#1a1a1a" stroke="#1a1a1a" stroke-width="0.85">20</text>
<line x1="586.5" y1="1416.1" x2="602.7" y2="1416.1" stroke="#111" stroke-width="2.5" stroke-linecap="butt"/>
<text transform="translate(564.6,1431.09) rotate(-90) scale(0.9800,1)" font-size="27.5" fill="#1a1a1a" stroke="#1a1a1a" stroke-width="0.85">30</text>
<line x1="586.5" y1="1347.1" x2="602.7" y2="1347.1" stroke="#111" stroke-width="2.5" stroke-linecap="butt"/>
<text transform="translate(564.6,1362.09) rotate(-90) scale(0.9800,1)" font-size="27.5" fill="#1a1a1a" stroke="#1a1a1a" stroke-width="0.85">40</text>
<line x1="586.5" y1="1278.1" x2="602.7" y2="1278.1" stroke="#111" stroke-width="2.5" stroke-linecap="butt"/>
<text transform="translate(564.6,1293.09) rotate(-90) scale(0.9800,1)" font-size="27.5" fill="#1a1a1a" stroke="#1a1a1a" stroke-width="0.85">50</text>
<text transform="translate(1011.52,1300.5) scale(0.9866,1)" font-size="33.2" fill="#111" stroke="#111" stroke-width="0.45">rho=  0.42</text>
<text transform="translate(969.41,1328.4) scale(0.9944,1)" font-size="32.6" fill="#111" stroke="#111" stroke-width="0.45">p−value=  0.003</text>
<text transform="translate(745.24,1700.7) scale(0.9746,1)" font-size="27.5" fill="#111" stroke="#111" stroke-width="0.45">CD8+CD38+HLA-DR+ T Cells (%)</text>
<text transform="translate(502.3,1493.62) rotate(-90) scale(0.9410,1)" font-size="28.3" fill="#111" stroke="#111" stroke-width="0.45">VLDL (mg/dl)</text>
<text transform="translate(23.9,47.89) scale(0.4880,0.5747)" font-size="100" font-weight="bold" fill="#000" style="font-family:DejaVu Sans,sans-serif">a</text>
<text transform="translate(56.54,51) scale(0.4948,0.6524)" font-size="100" font-weight="bold" fill="#000" style="font-family:DejaVu Sans,sans-serif">)</text>
<text transform="translate(947.79,47.86) scale(0.5009,0.5905)" font-size="100" font-weight="bold" fill="#000" style="font-family:DejaVu Sans,sans-serif">b</text>
<text transform="translate(982.89,51.04) scale(0.4879,0.6490)" font-size="100" font-weight="bold" fill="#000" style="font-family:DejaVu Sans,sans-serif">)</text>
<text transform="translate(0.17,685.28) scale(0.4949,0.5799)" font-size="100" font-weight="bold" fill="#000" style="font-family:DejaVu Sans,sans-serif">c</text>
<text transform="translate(26.74,688.17) scale(0.4948,0.6546)" font-size="100" font-weight="bold" fill="#000" style="font-family:DejaVu Sans,sans-serif">)</text>
<g transform="translate(140,499.32) rotate(-90) scale(0.9604,1)">
<text x="0" y="0" font-size="36" font-weight="bold" fill="#000">CD4</text>
<text x="72.02" y="-16.19" font-size="26.5" font-weight="bold" fill="#000">+</text>
<text x="87.49" y="0" font-size="36" font-weight="bold" fill="#000">CD38</text>
<text x="179.53" y="-16.19" font-size="26.5" font-weight="bold" fill="#000">+</text>
<text x="195.01" y="0" font-size="36" font-weight="bold" fill="#000">HLA-DR</text>
<text x="332.98" y="-16.19" font-size="26.5" font-weight="bold" fill="#000">+</text>
</g>
<text transform="translate(182.6,419.19) rotate(-90) scale(0.3509,0.3640)" font-size="100" font-weight="bold" fill="#000">T cells (%)</text>
<g transform="translate(1010.2,512.71) rotate(-90) scale(0.9630,1)">
<text x="0" y="0" font-size="35.8" font-weight="bold" fill="#000">CD8</text>
<text x="71.62" y="-16.19" font-size="26.5" font-weight="bold" fill="#000">+</text>
<text x="87.09" y="0" font-size="35.8" font-weight="bold" fill="#000">CD38</text>
<text x="178.62" y="-16.19" font-size="26.5" font-weight="bold" fill="#000">+</text>
<text x="194.1" y="0" font-size="35.8" font-weight="bold" fill="#000">HLA-DR</text>
<text x="331.3" y="-16.19" font-size="26.5" font-weight="bold" fill="#000">+</text>
</g>
<text transform="translate(1052.6,432.99) rotate(-90) scale(0.3505,0.3640)" font-size="100" font-weight="bold" fill="#000">T cells (%)</text>
</svg></body></html>
